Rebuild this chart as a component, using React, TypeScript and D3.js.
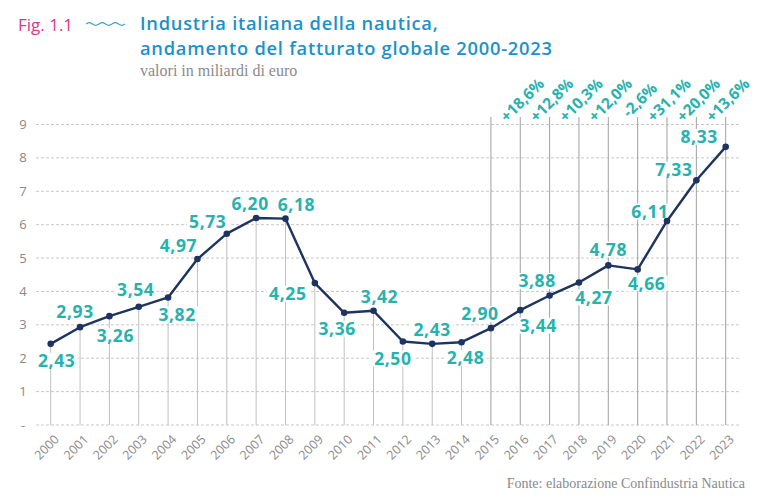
import React from "react";
import * as d3 from "d3";

const years = [2000,2001,2002,2003,2004,2005,2006,2007,2008,2009,2010,2011,2012,2013,2014,2015,2016,2017,2018,2019,2020,2021,2022,2023];
const values = [2.43,2.93,3.26,3.54,3.82,4.97,5.73,6.20,6.18,4.25,3.36,3.42,2.50,2.43,2.48,2.90,3.44,3.88,4.27,4.78,4.66,6.11,7.33,8.33];
const growthYears = [2016,2017,2018,2019,2020,2021,2022,2023];
const growthLabels = ["+18,6%","+12,8%","+10,3%","+12,0%","-2,6%","+31,1%","+20,0%","+13,6%"];
const yTicks = [0,1,2,3,4,5,6,7,8,9];
const tallLineFrom = 2015;

// label placement offsets (layout, not data)
const labelOffsets: [number, number][] = [
  [6,17],[-5,-15.5],[6,20],[-3,-17],[9,17],[-19,-13],[-19,-12],[-6,-14],[11,-14],[-27,11],
  [-7,16],[6,-14],[-10,17],[0,-14],[4,16],[-11,-14],[18,15.5],[-12.5,-14.5],[15,15],[0,-16],
  [9,14],[-17,-9.5],[-22.5,-10.5],[-26.5,-10],
];

const W = 768, H = 500;
const x = d3.scaleLinear().domain([2000, 2023]).range([50.7, 725.7]);
const y = d3.scaleLinear().domain([0, 9]).range([425, 124.5]);
const fmt = (v: number) => v.toFixed(2).replace(".", ",");

const TEAL = "#27b2ae";
const NAVY = "#1d3461";
const SANS = "'Open Sans', 'DejaVu Sans', sans-serif";
const SERIF = "'Liberation Serif', 'DejaVu Serif', serif";

export default function App() {
  const line = d3.line<number>().x((_, i) => x(years[i])).y((d) => y(d));
  const wave = d3.line<number>().curve(d3.curveBasis)
    .x((_, i) => 86 + i * 3.25).y((d) => 24 + d)([0, -2, 0, 2, 0, -2, 0, 2, 0, -2, 0, 2, 0]);
  return (
    <svg width={W} height={H} style={{ position: "absolute", left: 0, top: 0, background: "#fff" }}>
      <text x={18} y={31} fill="#d8378d" fontFamily={SANS} fontSize={17}>Fig. 1.1</text>
      <path d={wave || ""} fill="none" stroke="#3a9fd0" strokeWidth={1.2} />
      <text x={140} y={30} fill="#1c91c9" fontFamily={SANS} fontSize={18.3} fontWeight={600} letterSpacing={0.75}>Industria italiana della nautica,</text>
      <text x={140} y={55} fill="#1c91c9" fontFamily={SANS} fontSize={18.3} fontWeight={600} letterSpacing={0.75}>andamento del fatturato globale 2000-2023</text>
      <text x={140} y={76} fill="#8a8a8a" fontFamily={SERIF} fontSize={16}>valori in miliardi di euro</text>

      {yTicks.map((t) => (
        <g key={t}>
          <line x1={36} x2={739} y1={y(t)} y2={y(t)} stroke="#c8c8c8" strokeDasharray="3,2" strokeWidth={1} />
          <text x={23} y={y(t) + 4.5} textAnchor="middle" fill="#888" fontFamily={SANS} fontSize={13}>{t === 0 ? "-" : String(t)}</text>
        </g>
      ))}

      {years.map((yr, i) => (
        <line key={yr} x1={x(yr)} x2={x(yr)} y1={yr >= tallLineFrom ? 117 : y(values[i])} y2={y(0)}
          stroke={yr >= tallLineFrom ? "#a0a0a0" : "#c0c0c0"} strokeWidth={1} />
      ))}

      {years.map((yr, i) => {
        const [dx, dy] = labelOffsets[i];
        return <rect key={yr} x={x(yr) + dx - 21} y={y(values[i]) + dy - 8} width={42} height={16} fill="#fff" />;
      })}

      <path d={line(values) || ""} fill="none" stroke={NAVY} strokeWidth={2.4} strokeLinejoin="round" />
      {years.map((yr, i) => (
        <circle key={yr} cx={x(yr)} cy={y(values[i])} r={3.3} fill={NAVY} />
      ))}

      {years.map((yr, i) => {
        const [dx, dy] = labelOffsets[i];
        return (
          <text key={yr} x={x(yr) + dx} y={y(values[i]) + dy + 6.2} textAnchor="middle" fill={TEAL}
            fontFamily={SANS} fontSize={17.5} fontWeight={700} letterSpacing={0.6}>{fmt(values[i])}</text>
        );
      })}

      {growthYears.map((yr, i) => (
        <text key={yr} transform={`translate(${x(yr) + 2},${100}) rotate(-45)`} textAnchor="middle" dy="0.35em"
          fill={TEAL} fontFamily={SANS} fontSize={15.5} fontWeight={700}>{growthLabels[i]}</text>
      ))}

      {years.map((yr) => (
        <text key={yr} transform={`translate(${x(yr) + 3},${434}) rotate(-45)`} textAnchor="end" dy="0.7em"
          fill="#8a8a8a" fontFamily={SANS} fontSize={12.5}>{String(yr)}</text>
      ))}

      <text x={745} y={488} textAnchor="end" fill="#8a8a8a" fontFamily={SERIF} fontSize={14}>Fonte: elaborazione Confindustria Nautica</text>
    </svg>
  );
}
